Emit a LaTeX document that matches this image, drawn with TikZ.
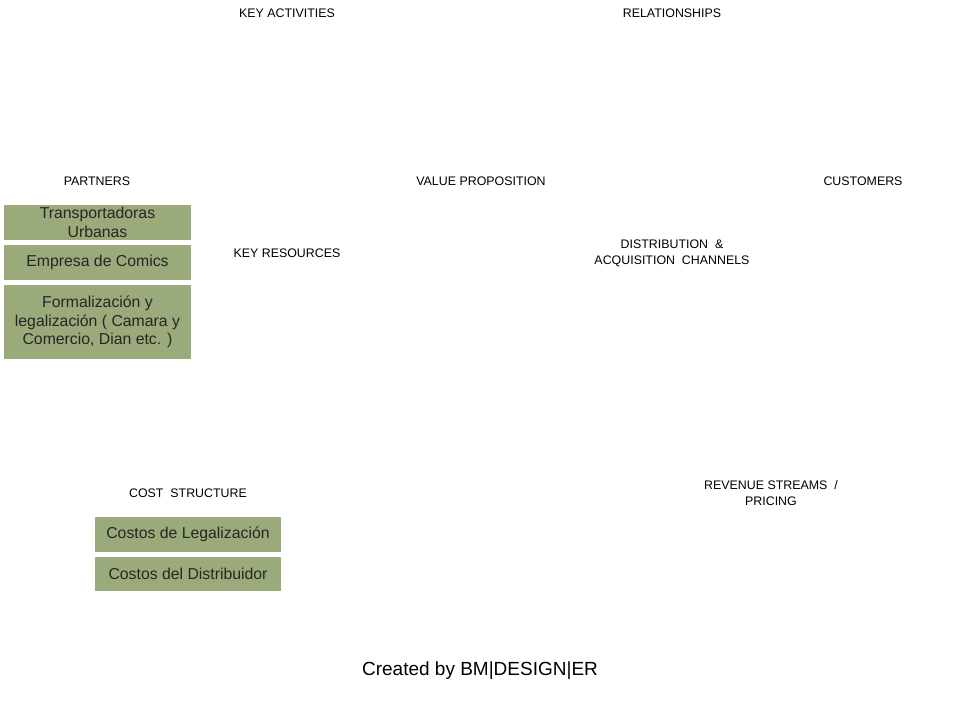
\documentclass[tikz,border=0pt]{standalone}
\usepackage{fontspec}
\setmainfont{Liberation Sans}
\definecolor{boxgreen}{RGB}{155,170,122}
\begin{document}
\begin{tikzpicture}[x=1pt,y=-1pt,
  lbl/.style={font=\fontsize{12.4}{16}\selectfont, align=center, inner sep=0pt},
  gbox/.style={fill=boxgreen, draw=none, inner sep=0pt, align=center, font=\fontsize{15.8}{18.5}\selectfont, text=black!85}]
\useasboundingbox[fill=white] (0,0) rectangle (960,720);
\node[lbl] (ka) at (287,13) {KEY ACTIVITIES};
\node[lbl] (rel) at (672,13) {RELATIONSHIPS};
\node[lbl] (par) at (97,181) {PARTNERS};
\node[lbl] (vp) at (481,181) {VALUE PROPOSITION};
\node[lbl] (cus) at (863,181) {CUSTOMERS};
\node[lbl] (kr) at (287,253) {KEY RESOURCES};
\node[lbl] (dist) at (672,253) {DISTRIBUTION \ \&\\ACQUISITION \ CHANNELS};
\node[lbl] (cs) at (188,493) {COST \ STRUCTURE};
\node[lbl] (rev) at (771,493) {REVENUE STREAMS \ /\\PRICING};
\node[gbox, minimum width=187, minimum height=35] (t) at (97.5,222.5) {Transportadoras\\Urbanas};
\node[gbox, minimum width=187, minimum height=35] (e) at (97.5,262.5) {Empresa de Comics};
\node[gbox, minimum width=187, minimum height=74] (f) at (97.5,322) {Formalización y\\legalización ( Camara y\\Comercio, Dian etc. )};
\node[gbox, minimum width=186, minimum height=35] (cl) at (188,534.5) {Costos de Legalización};
\node[gbox, minimum width=186, minimum height=34] (cd) at (188,574) {Costos del Distribuidor};
\node[inner sep=0pt, font=\fontsize{19}{22}\selectfont] (cr) at (480,671) {Created by BM|DESIGN|ER};
\end{tikzpicture}
\end{document}
